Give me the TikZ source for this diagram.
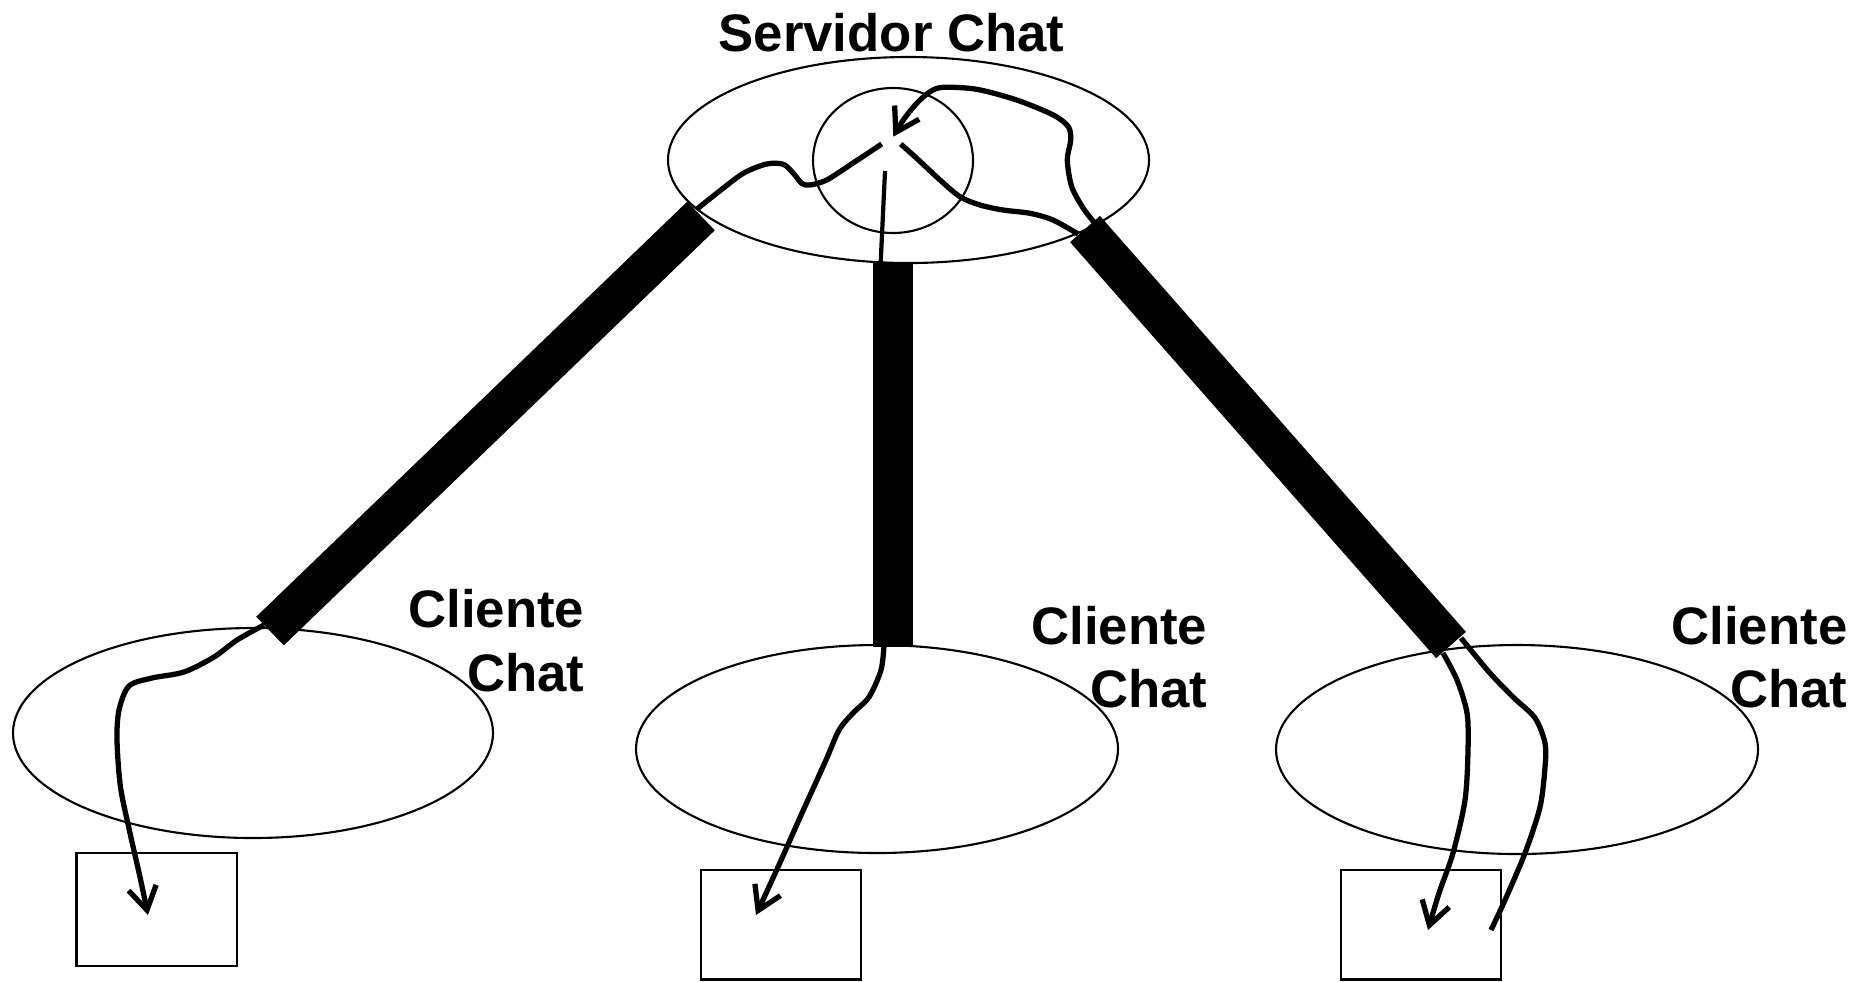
\documentclass[tikz,border=0pt]{standalone}
\usepackage{fontspec}
\setmainfont{Liberation Sans}
\usetikzlibrary{arrows.meta}
\begin{document}
\begin{tikzpicture}[x=0.01cm,y=-0.01cm,
  thinline/.style={line width=0.6pt},
  wire/.style={line width=1.5pt},
  bar/.style={line width=11.3pt},
  arr/.style={-{Straight Barb[length=6.5pt,width=8pt]}},
  lbl/.style={font=\bfseries\fontsize{15}{18}\selectfont, inner sep=0pt, anchor=base east}
]
\useasboundingbox[fill=white] (0,0) rectangle (1874,981);

% server
\coordinate (srv) at (908.5,160);
\coordinate (core) at (893,160.5);
\draw[thinline] (srv) ellipse [x radius=240.5, y radius=103];
\draw[thinline] (core) ellipse [x radius=80, y radius=72.5];
\node[font=\bfseries\fontsize{15}{18}\selectfont, inner sep=0pt, anchor=base] (title) at (891.5,51.5) {Servidor Chat};

% clients
\coordinate (cl1) at (253,733);
\coordinate (cl2) at (877,749);
\coordinate (cl3) at (1517,749.5);
\draw[thinline] (cl1) ellipse [x radius=240, y radius=105];
\draw[thinline] (cl2) ellipse [x radius=241, y radius=104];
\draw[thinline] (cl3) ellipse [x radius=241, y radius=104.5];

\node[lbl] (c1a) at (585,627) {Cliente};
\node[lbl] (c1b) at (585,691) {Chat};
\node[lbl] (c2a) at (1208,644) {Cliente};
\node[lbl] (c2b) at (1208,707) {Chat};
\node[lbl] (c3a) at (1848,644) {Cliente};
\node[lbl] (c3b) at (1848,707) {Chat};

% boxes
\draw[thinline] (76.5,853) rectangle (236.7,966);
\draw[thinline] (701,870) rectangle (861,979.5);
\draw[thinline] (1341,870) rectangle (1501,979.5);

% bar ends
\coordinate (lbT) at (701,216);
\coordinate (lbB) at (270,631);
\coordinate (mbT) at (893,262);
\coordinate (mbB) at (893,647);
\coordinate (rbT) at (1085,229);
\coordinate (rbB) at (1451,645);

% wires in the server
\coordinate (aS) at (696.7,209.3);
\coordinate (aE) at (881.7,144);
\draw[wire] plot[smooth] coordinates {(aS) (716.7,193.3) (743.3,173.3) (766.7,164) (783.3,164.3) (793.3,173.3) (801.7,183.3) (810,185) (826.7,180) (850,165) (aE)};
\coordinate (bS) at (885,171);
\coordinate (bE) at (880.5,266);
\draw[line width=1.2pt] (bS) -- (bE);
\coordinate (cS) at (900.7,144);
\coordinate (cE) at (1078,234);
\draw[wire] plot[smooth] coordinates {(cS) (916.7,158.3) (940,180) (960,196.7) (980,205) (1003,210) (1030,213.3) (1053,220) (cE)};
\coordinate (dS) at (1095,223.3);
\coordinate (dE) at (893.3,136.7);
\draw[wire,arr] plot[smooth] coordinates {(dS) (1083.3,208.3) (1071.7,186.7) (1067.3,160) (1070.7,140) (1068.3,126.7) (1053.3,115) (1016.7,100) (976.7,89.3) (943.3,87.3) (930,91.7) (916.7,103.3) (903.3,120) (dE)};

% wires in the clients
\coordinate (eS) at (264,625);
\coordinate (eE) at (148,915);
\draw[wire,arr] plot[smooth] coordinates {(eS) (237,640) (214,657) (184,672) (152,678) (129,686) (119,710) (117,740) (120.5,787) (130,833) (140,877) (eE)};
\coordinate (fS) at (884,645);
\coordinate (fE) at (756,915);
\draw[wire,arr] plot[smooth] coordinates {(fS) (881,670) (869,697) (853,713) (839,730) (826,760) (802,813) (778,867) (fE)};
\coordinate (gS) at (1443,653);
\coordinate (gE) at (1428,930);
\draw[wire,arr] plot[smooth] coordinates {(gS) (1457,680) (1467,713) (1468,750) (1465,800) (1453,853) (1439,893) (gE)};
\coordinate (hS) at (1461,638);
\coordinate (hE) at (1491,930);
\draw[wire] plot[smooth] coordinates {(hS) (1489,672) (1513,697) (1535,718) (1545,743) (1545,767) (1540,807) (1525,853) (1505,900) (hE)};

% thick links
\draw[bar] (lbT) -- (lbB);
\draw[bar] (mbT) -- (mbB);
\draw[bar] (rbT) -- (rbB);
\end{tikzpicture}
\end{document}
